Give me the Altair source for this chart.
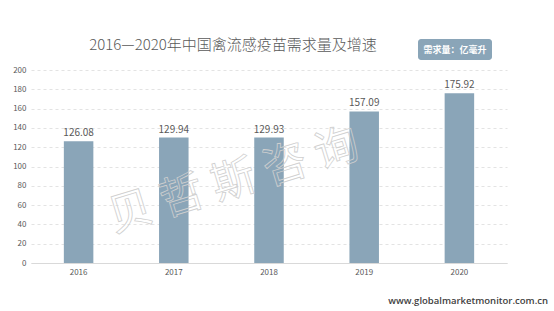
import altair as alt
import pandas as pd

years = ["2016", "2017", "2018", "2019", "2020"]
demand = [126.08, 129.94, 129.93, 157.09, 175.92]
y_ticks = [0, 20, 40, 60, 80, 100, 120, 140, 160, 180, 200]
title_text = "2016—2020年中国禽流感疫苗需求量及增速"
unit_text = "需求量：亿毫升"
footer_text = "www.globalmarketmonitor.com.cn"
watermark_text = "贝 哲 斯 咨 询"

df = pd.DataFrame({"year": years, "value": demand})
font = "Noto Sans CJK SC"
bar_color = "#8aa5b8"

x_enc = alt.X("year:N", sort=years, title=None,
              scale=alt.Scale(paddingInner=0.69, paddingOuter=0.345),
              axis=alt.Axis(labelAngle=0, labelFontSize=8, labelColor="#595959",
                            labelFont=font, ticks=False, domainColor="#d9d9d9",
                            labelPadding=5, grid=False))
y_enc = alt.Y("value:Q", title=None,
              scale=alt.Scale(domain=[0, 200], nice=False),
              axis=alt.Axis(values=y_ticks, tickCount=len(y_ticks) + 5, labelFontSize=8,
                            labelColor="#595959", labelFont=font, ticks=False, domain=False,
                            labelOverlap=False, gridColor="#e3e3e3", gridDash=[3, 3],
                            labelPadding=5))

base = alt.Chart(df)
bars = base.mark_bar(color=bar_color).encode(x=x_enc, y=y_enc)
labels = base.mark_text(baseline="bottom", dy=-3, fontSize=10, color="#595959", font=font).encode(
    x=x_enc, y=y_enc, text=alt.Text("value:Q", format=".2f"))

one = alt.Chart(pd.DataFrame({"t": [0]}))
title = one.mark_text(fontSize=15, color="#595959", font=font, fontWeight=300, baseline="middle").encode(
    x=alt.value(202), y=alt.value(-25), text=alt.value(title_text))
unit_box = one.mark_rect(color=bar_color, cornerRadius=3).encode(
    x=alt.value(387), x2=alt.value(461), y=alt.value(-31), y2=alt.value(-10))
unit = one.mark_text(fontSize=9, color="white", font=font, fontWeight="bold", baseline="middle").encode(
    x=alt.value(424), y=alt.value(-20.5), text=alt.value(unit_text))
footer = one.mark_text(fontSize=9.5, color="#404040", font="Open Sans", fontWeight=600,
                       baseline="middle", align="right").encode(
    x=alt.value(517), y=alt.value(231), text=alt.value(footer_text))
watermark = one.mark_text(fontSize=44, fill="white", fillOpacity=0, stroke="#cfcfcf",
                          strokeWidth=0.8, font=font, angle=343, baseline="middle").encode(
    x=alt.value(203), y=alt.value(112), text=alt.value(watermark_text))

chart = alt.layer(bars, watermark, labels, title, unit_box, unit, footer).properties(
    width=476, height=193,
    autosize=alt.AutoSizeParams(type="none"),
    padding={"left": 31, "top": 70, "right": 47, "bottom": 48},
    background="white",
).configure_view(stroke=None)

chart.save("out.html", embed_options={"renderer": "svg", "actions": False})
